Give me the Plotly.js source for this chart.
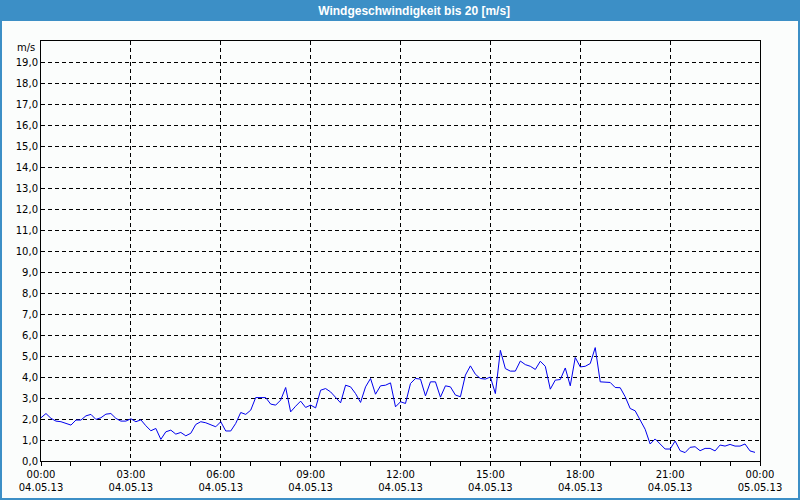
<!DOCTYPE html>
<html>
<head>
<meta charset="utf-8">
<script src="https://cdn.plot.ly/plotly-3.0.1.min.js"></script>
<style>
html,body{margin:0;padding:0;background:#fbfdfc;}
#chart{width:800px;height:500px;}
</style>
</head>
<body>
<div id="chart"></div>
<script>
const chartTitle = "Windgeschwindigkeit bis 20 [m/s]";
const unitLabel = "m/s";
const day = "2013-05-04";
const times = [
 "00:00","00:10","00:20","00:30","00:40","01:00","01:10","01:20","01:30","01:40","01:50","02:00",
 "02:10","02:20","02:30","02:40","02:50","03:00","03:10","03:20","03:30","03:40","03:50","04:00",
 "04:10","04:20","04:30","04:40","04:50","05:00","05:10","05:20","05:30","05:40","05:50","06:00",
 "06:10","06:20","06:30","06:40","06:50","07:00","07:10","07:30","07:40","07:50","08:00","08:10",
 "08:20","08:30","08:40","08:50","09:00","09:10","09:20","09:30","09:40","10:00","10:10","10:20",
 "10:30","10:40","10:50","11:00","11:10","11:20","11:30","11:40","11:50","12:00","12:10","12:20",
 "12:30","12:40","12:50","13:00","13:10","13:20","13:30","13:40","13:50","14:00","14:10","14:20",
 "14:30","14:40","14:50","15:00","15:10","15:20","15:30","15:40","15:50","16:00","16:10","16:20",
 "16:30","16:40","16:50","17:00","17:10","17:20","17:30","17:40","17:50","18:00","18:10","18:20",
 "18:30","18:40","19:00","19:10","19:20","19:30","19:40","19:50","20:00","20:10","20:20","20:30",
 "20:40","20:50","21:00","21:10","21:20","21:30","21:40","21:50","22:00","22:10","22:20","22:30",
 "22:40","22:50","23:00","23:10","23:20","23:30","23:40","23:50"
];
const speeds = [
 2.06,2.26,2.03,1.90,1.87,1.71,1.95,1.95,2.15,2.22,1.98,2.06,
 2.23,2.26,2.03,1.90,1.90,2.01,1.87,1.96,1.68,1.44,1.55,1.03,
 1.39,1.47,1.28,1.36,1.20,1.32,1.74,1.87,1.82,1.74,1.63,1.87,
 1.43,1.43,1.79,2.31,2.22,2.42,3.02,3.02,2.71,2.66,2.90,3.50,
 2.34,2.61,2.85,2.55,2.66,2.53,3.37,3.45,3.29,2.77,3.61,3.53,
 3.21,2.79,3.53,3.93,3.18,3.58,3.61,3.72,2.58,2.82,2.74,3.69,
 3.93,3.90,3.10,3.77,3.77,3.04,3.58,3.53,3.14,3.06,4.09,4.53,
 4.13,3.93,3.90,4.00,3.21,5.27,4.40,4.28,4.28,4.76,4.59,4.51,
 4.36,4.75,4.51,3.42,3.85,3.88,4.43,3.58,4.93,4.48,4.51,4.64,
 5.40,3.77,3.74,3.50,3.49,3.06,2.50,2.39,1.95,1.51,0.81,1.05,
 0.81,0.57,0.57,0.95,0.49,0.40,0.65,0.68,0.49,0.60,0.60,0.48,
 0.76,0.71,0.79,0.71,0.71,0.81,0.48,0.41
];
const yTickVals = [0,1,2,3,4,5,6,7,8,9,10,11,12,13,14,15,16,17,18,19];
const yTickText = ["0,0","1,0","2,0","3,0","4,0","5,0","6,0","7,0","8,0","9,0","10,0","11,0","12,0","13,0","14,0","15,0","16,0","17,0","18,0","19,0"];

const xs = times.map(t => day + " " + t);
const W = 800, H = 500, ml = 41, mr = 40, mt = 41, mb = 39;
const pw = W - ml - mr, ph = H - mt - mb;
const bg = "#fbfdfc";
const blue = "#3c8fc6";
const font = {family: "DejaVu Sans, sans-serif", size: 10, color: "#000"};

const trace = {
  x: xs, y: speeds, type: "scatter", mode: "lines",
  line: {color: "#0000ee", width: 1}, hoverinfo: "skip"
};

const layout = {
  width: W, height: H,
  margin: {l: ml, r: mr, t: mt, b: mb, pad: 0},
  paper_bgcolor: bg, plot_bgcolor: bg,
  showlegend: false,
  font: font,
  title: {
    text: "<b>" + chartTitle + "</b>",
    font: {family: "Liberation Sans, Arial, sans-serif", size: 12, color: "#ffffff"},
    x: 0.519, xanchor: "center", xref: "paper",
    y: 1 - 10.5 / H, yanchor: "middle", yref: "container"
  },
  xaxis: {
    type: "date",
    range: [day + " 00:00", "2013-05-05 00:00"],
    dtick: 3 * 3600000,
    tick0: day + " 00:00",
    tickformat: "%H:%M<br>%d.%m.%y",
    ticks: "outside", ticklen: 4, tickcolor: "#000", tickwidth: 1,
    showgrid: true, gridcolor: "#000", gridwidth: 1, griddash: "4px,3px",
    minor: {dtick: 3600000, ticks: "outside", ticklen: 4, tickcolor: "#000", showgrid: false},
    showline: true, linecolor: "#000", linewidth: 1, mirror: true,
    zeroline: false, fixedrange: true,
    tickfont: font
  },
  yaxis: {
    range: [0, 20],
    tickmode: "array", tickvals: yTickVals, ticktext: yTickText,
    ticks: "", showgrid: true, gridcolor: "#000", gridwidth: 1, griddash: "4px,3px",
    showline: true, linecolor: "#000", linewidth: 1, mirror: true,
    zeroline: false, fixedrange: true,
    tickfont: font
  },
  shapes: [
    {type: "rect", xref: "paper", yref: "paper", layer: "below",
     x0: -ml / pw, x1: 1 + mr / pw, y0: 1 + (mt - 21) / ph, y1: 1 + mt / ph,
     fillcolor: blue, line: {width: 0}},
    {type: "rect", xref: "paper", yref: "paper", layer: "above",
     x0: -(ml - 1) / pw, x1: 1 + (mr - 1) / pw, y0: -(mb - 1) / ph, y1: 1 + (mt - 1) / ph,
     fillcolor: "rgba(0,0,0,0)", line: {width: 2, color: blue}}
  ],
  annotations: [
    {text: unitLabel, xref: "paper", yref: "paper", x: 0, y: 1,
     xanchor: "right", yanchor: "middle", xshift: -4, yshift: -6,
     showarrow: false, font: font}
  ]
};

Plotly.newPlot("chart", [trace], layout, {staticPlot: true, displayModeBar: false});
</script>
</body>
</html>
